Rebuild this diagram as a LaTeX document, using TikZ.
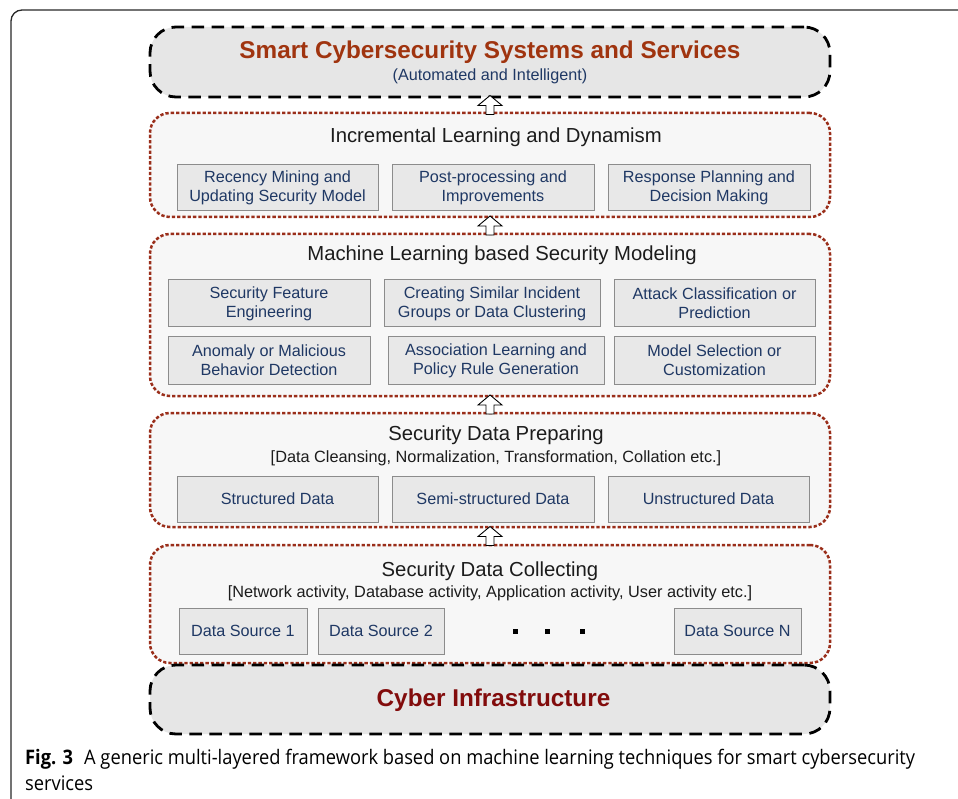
\documentclass[tikz,border=0pt]{standalone}
\usepackage{fontspec}
\setmainfont{Liberation Sans}
\newfontfamily\capfont[FakeStretch=0.915]{Open Sans}
\usetikzlibrary{calc}
\definecolor{rust}{RGB}{160,52,15}
\definecolor{cyberred}{RGB}{130,12,12}
\definecolor{navy}{RGB}{31,56,100}
\definecolor{dotred}{RGB}{154,46,26}
\definecolor{boxfill}{RGB}{232,232,232}
\definecolor{boxline}{RGB}{140,140,140}
\definecolor{layerfill}{RGB}{247,247,247}
\definecolor{outerfill}{RGB}{230,230,230}
\definecolor{framecol}{RGB}{40,40,40}
\definecolor{titlecol}{RGB}{28,28,28}
\tikzset{
  endlayer/.style={draw=black, fill=outerfill, line width=2.8pt, dash pattern=on 12.5pt off 7.5pt,
    rounded corners=26pt, minimum width=680pt, inner sep=0pt, outer sep=0pt},
  layer/.style={draw=dotred, fill=layerfill, line width=2.5pt, dash pattern=on 3.3pt off 2pt,
    rounded corners=20pt, minimum width=680pt, inner sep=0pt, outer sep=0pt},
  itembox/.style={draw=boxline, fill=boxfill, line width=1pt, inner sep=0pt, outer sep=0pt,
    align=center, text=navy, font=\fontsize{16.2}{19}\selectfont},
  ltitle/.style={text=titlecol, font=\fontsize{20.3}{24}\selectfont, inner sep=0pt},
  lsub/.style={text=titlecol, font=\fontsize{16.3}{19}\selectfont, inner sep=0pt},
  sq/.style={fill=black, minimum size=5pt, inner sep=0pt},
  uparrow/.pic={\draw[fill=white, line width=0.9pt, line join=miter]
    (0,-9.5) -- (12,0.5) -- (4,0.5) -- (4,9.5) -- (-4,9.5) -- (-4,0.5) -- (-12,0.5) -- cycle;}
}
\begin{document}
\begin{tikzpicture}[x=1pt,y=-1pt]
\useasboundingbox (0,0) rectangle (958,799);
\fill[white] (0,0) rectangle (958,799);
% frame
\draw[framecol, line width=1.3pt, rounded corners=11pt] (11,800) |- (959,10);

% layers
\node[endlayer, minimum height=70pt] (L1) at (490,62) {};
\node[layer, minimum height=104pt] (L2) at (490,165) {};
\node[layer, minimum height=162pt] (L3) at (490,315) {};
\node[layer, minimum height=114pt] (L4) at (490,470) {};
\node[layer, minimum height=118pt] (L5) at (490,604) {};
\node[endlayer, minimum height=69pt] (L6) at (490,699.5) {};

% top
\node[text=rust, font=\fontsize{24.3}{28}\bfseries\selectfont, inner sep=0pt] (t1) at (490,52.5) {Smart Cybersecurity Systems and Services};
\node[text=navy, font=\fontsize{16.2}{19}\selectfont, inner sep=0pt] (s1) at (490,76) {(Automated and Intelligent)};

% layer 2
\node[ltitle] (t2) at (496,137.5) {Incremental Learning and Dynamism};
\node[itembox, minimum width=201pt, minimum height=46pt] (b21) at (277.5,188) {Recency Mining and\\Updating Security Model};
\node[itembox, minimum width=202pt, minimum height=46pt] (b22) at (493,188) {Post-processing and\\Improvements};
\node[itembox, minimum width=202pt, minimum height=46pt] (b23) at (709,188) {Response Planning and\\Decision Making};

% layer 3
\node[ltitle] (t3) at (502,255.5) {Machine Learning based Security Modeling};
\node[itembox, minimum width=202pt, minimum height=47pt] (b31) at (269,303.5) {Security Feature\\Engineering};
\node[itembox, minimum width=216pt, minimum height=47pt] (b32) at (492,303.5) {Creating Similar Incident\\Groups or Data Clustering};
\node[itembox, minimum width=201pt, minimum height=47pt] (b33) at (714.5,303.5) {Attack Classification or\\Prediction};
\node[itembox, minimum width=202pt, minimum height=47pt] (b34) at (269,360.5) {Anomaly or Malicious\\Behavior Detection};
\node[itembox, minimum width=216pt, minimum height=47pt] (b35) at (496,360.5) {Association Learning and\\Policy Rule Generation};
\node[itembox, minimum width=201pt, minimum height=47pt] (b36) at (714.5,360.5) {Model Selection or\\Customization};

% layer 4
\node[ltitle] (t4) at (496,435) {Security Data Preparing};
\node[lsub] (s4) at (496,458) {[Data Cleansing, Normalization, Transformation, Collation etc.]};
\node[itembox, minimum width=201pt, minimum height=46pt] (b41) at (277.5,499) {Structured Data};
\node[itembox, minimum width=202pt, minimum height=46pt] (b42) at (493,499) {Semi-structured Data};
\node[itembox, minimum width=201pt, minimum height=46pt] (b43) at (708.5,499) {Unstructured Data};

% layer 5
\node[ltitle] (t5) at (490,571.5) {Security Data Collecting};
\node[lsub] (s5) at (490,593) {[Network activity, Database activity, Application activity, User activity etc.]};
\node[itembox, minimum width=128pt, minimum height=46pt] (b51) at (243,631) {Data Source 1};
\node[itembox, minimum width=126pt, minimum height=46pt] (b52) at (381,631) {Data Source 2};
\node[itembox, minimum width=127pt, minimum height=46pt] (b5N) at (737.5,631) {Data Source N};
\node[sq] (d1) at (515,631) {};
\node[sq] (d2) at (547,631) {};
\node[sq] (d3) at (582,631) {};

% bottom
\node[text=cyberred, font=\fontsize{24.3}{28}\bfseries\selectfont, inner sep=0pt] (t6) at (493.5,700) {Cyber Infrastructure};

% arrows
\pic at ($(L1.south)!0.5!(L2.north)$) {uparrow};
\pic at ($(L2.south)!0.5!(L3.north)$) {uparrow};
\pic at ($(L3.south)!0.5!(L4.north)$) {uparrow};
\pic at ($(L4.south)!0.5!(L5.north)$) {uparrow};

% caption
\node[anchor=base west, inner sep=0pt, font=\capfont\fontsize{20}{24}\selectfont] (cap1) at (25,764)
  {\textbf{Fig. 3}\hspace{0.55em}A generic multi-layered framework based on machine learning techniques for smart cybersecurity};
\node[anchor=base west, inner sep=0pt, font=\capfont\fontsize{20}{24}\selectfont] (cap2) at (25,790) {services};
\end{tikzpicture}
\end{document}
